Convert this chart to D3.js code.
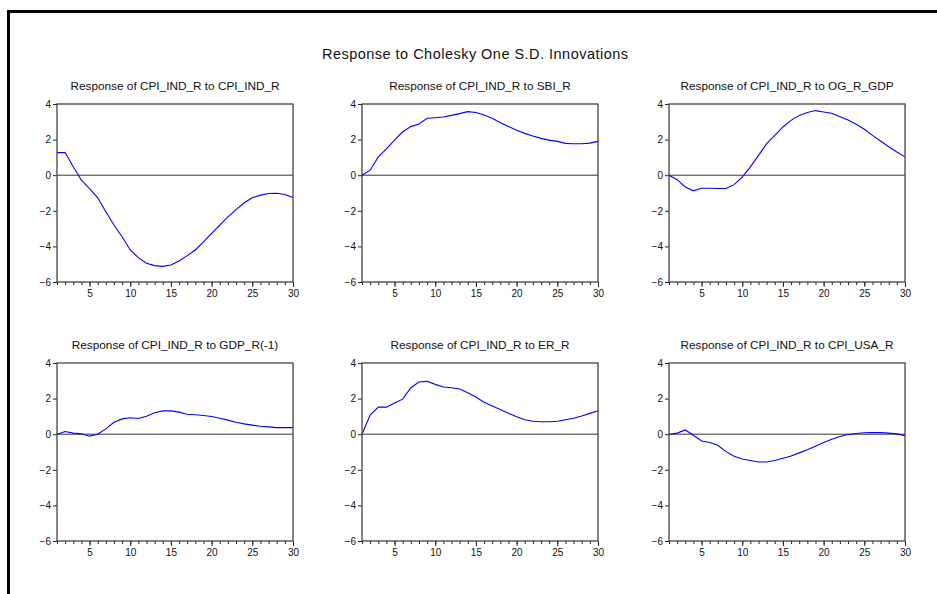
<!DOCTYPE html>
<html>
<head>
<meta charset="utf-8">
<script src="https://cdn.jsdelivr.net/npm/d3@7"></script>
<style>
html,body{margin:0;padding:0;background:#fff;}
svg{display:block;}
</style>
</head>
<body>
<svg id="chart" width="937" height="594"></svg>
<script>
const mainTitle = "Response to Cholesky One S.D. Innovations";
const panelTitles = [
  "Response of CPI_IND_R to CPI_IND_R",
  "Response of CPI_IND_R to SBI_R",
  "Response of CPI_IND_R to OG_R_GDP",
  "Response of CPI_IND_R to GDP_R(-1)",
  "Response of CPI_IND_R to ER_R",
  "Response of CPI_IND_R to CPI_USA_R"
];
const periods = d3.range(1, 31);
const xTickLabels = [5, 10, 15, 20, 25, 30];
const yTickLabels = [4, 2, 0, -2, -4, -6];

const respCPI = [1.27,1.27,0.47,-0.28,-0.75,-1.27,-2.05,-2.8,-3.46,-4.2,-4.63,-4.95,-5.08,-5.12,-5.05,-4.82,-4.52,-4.2,-3.74,-3.27,-2.8,-2.34,-1.93,-1.55,-1.27,-1.12,-1.03,-1.01,-1.08,-1.25];
const respSBI = [0,0.28,1.03,1.48,1.97,2.44,2.73,2.88,3.2,3.23,3.27,3.36,3.46,3.57,3.52,3.38,3.2,2.95,2.73,2.52,2.35,2.2,2.07,1.97,1.9,1.79,1.77,1.77,1.8,1.9];
const respOG = [0,-0.25,-0.66,-0.88,-0.73,-0.73,-0.75,-0.75,-0.53,-0.11,0.47,1.11,1.77,2.24,2.71,3.08,3.36,3.52,3.63,3.55,3.48,3.29,3.1,2.86,2.58,2.24,1.92,1.6,1.3,1.03];
const respGDP = [0,0.15,0.06,0.02,-0.11,0,0.3,0.67,0.86,0.92,0.88,1.01,1.2,1.31,1.31,1.24,1.12,1.09,1.05,0.99,0.9,0.79,0.67,0.58,0.51,0.45,0.41,0.37,0.37,0.37];
const respER = [0,1.07,1.52,1.52,1.75,1.97,2.61,2.93,2.97,2.8,2.65,2.61,2.54,2.33,2.09,1.8,1.58,1.39,1.18,0.98,0.81,0.73,0.7,0.7,0.73,0.81,0.9,1.02,1.17,1.32];
const respUSA = [0,0.06,0.24,-0.06,-0.38,-0.47,-0.62,-0.98,-1.24,-1.39,-1.48,-1.56,-1.56,-1.48,-1.35,-1.22,-1.05,-0.88,-0.68,-0.47,-0.28,-0.13,-0.02,0.04,0.08,0.09,0.09,0.06,0.02,-0.08];
const series = [respCPI, respSBI, respOG, respGDP, respER, respUSA];

const svg = d3.select("#chart");
const FONT = "'Liberation Sans', Arial, sans-serif";

// outer frame
svg.append("path")
  .attr("d", "M8.5,594 L8.5,11.5 L937,11.5")
  .attr("fill", "none").attr("stroke", "#000").attr("stroke-width", 3);

svg.append("text")
  .attr("x", 475).attr("y", 59)
  .attr("text-anchor", "middle")
  .attr("font-family", FONT).attr("font-size", 14.5)
  .attr("textLength", 306).attr("lengthAdjust", "spacing")
  .attr("fill", "#111")
  .text(mainTitle);

const colLeft = [57, 362, 669];
const rowTop = [104, 363];
const W = 236, H = 178;

series.forEach((vals, i) => {
  const col = i % 3, row = Math.floor(i / 3);
  const g = svg.append("g").attr("transform", `translate(${colLeft[col]},${rowTop[row]})`);
  const x = d3.scaleLinear().domain([1, 30]).range([0, W]);
  const y = d3.scaleLinear().domain([-6, 4]).range([H, 0]);

  g.append("text")
    .attr("x", W / 2).attr("y", -14)
    .attr("text-anchor", "middle")
    .attr("font-family", FONT).attr("font-size", 11.8)
    .attr("fill", "#111")
    .text(panelTitles[i]);

  // minor x ticks
  const xMinor = d3.axisBottom(x).tickValues(periods).tickSize(3).tickFormat("");
  const gxm = g.append("g").attr("transform", `translate(0,${H})`).call(xMinor);
  gxm.select(".domain").remove();
  gxm.selectAll("line").attr("stroke", "#222");

  const xMajor = d3.axisBottom(x).tickValues(xTickLabels).tickSize(5).tickPadding(3).tickFormat(d3.format("d"));
  const gx = g.append("g").attr("transform", `translate(0,${H})`).call(xMajor);
  gx.select(".domain").remove();
  gx.selectAll("line").attr("stroke", "#222");
  gx.selectAll("text").attr("font-family", FONT).attr("font-size", 10).attr("fill", "#111");

  const yAx = d3.axisLeft(y).tickValues(yTickLabels).tickSize(4).tickPadding(2).tickFormat(d3.format("d"));
  const gy = g.append("g").call(yAx);
  gy.select(".domain").remove();
  gy.selectAll("line").attr("stroke", "#222");
  gy.selectAll("text").attr("font-family", FONT).attr("font-size", 10).attr("fill", "#111");

  // zero line
  g.append("line")
    .attr("x1", 0).attr("x2", W).attr("y1", y(0)).attr("y2", y(0))
    .attr("stroke", "#333").attr("stroke-width", 1);

  // curve
  g.append("path")
    .datum(vals)
    .attr("fill", "none").attr("stroke", "#0000ff").attr("stroke-width", 1.1)
    .attr("d", d3.line().x((d, j) => x(periods[j])).y(d => y(d)));

  // box
  g.append("rect")
    .attr("x", 0).attr("y", 0).attr("width", W).attr("height", H)
    .attr("fill", "none").attr("stroke", "#444").attr("stroke-width", 1.3);
});
</script>
</body>
</html>
